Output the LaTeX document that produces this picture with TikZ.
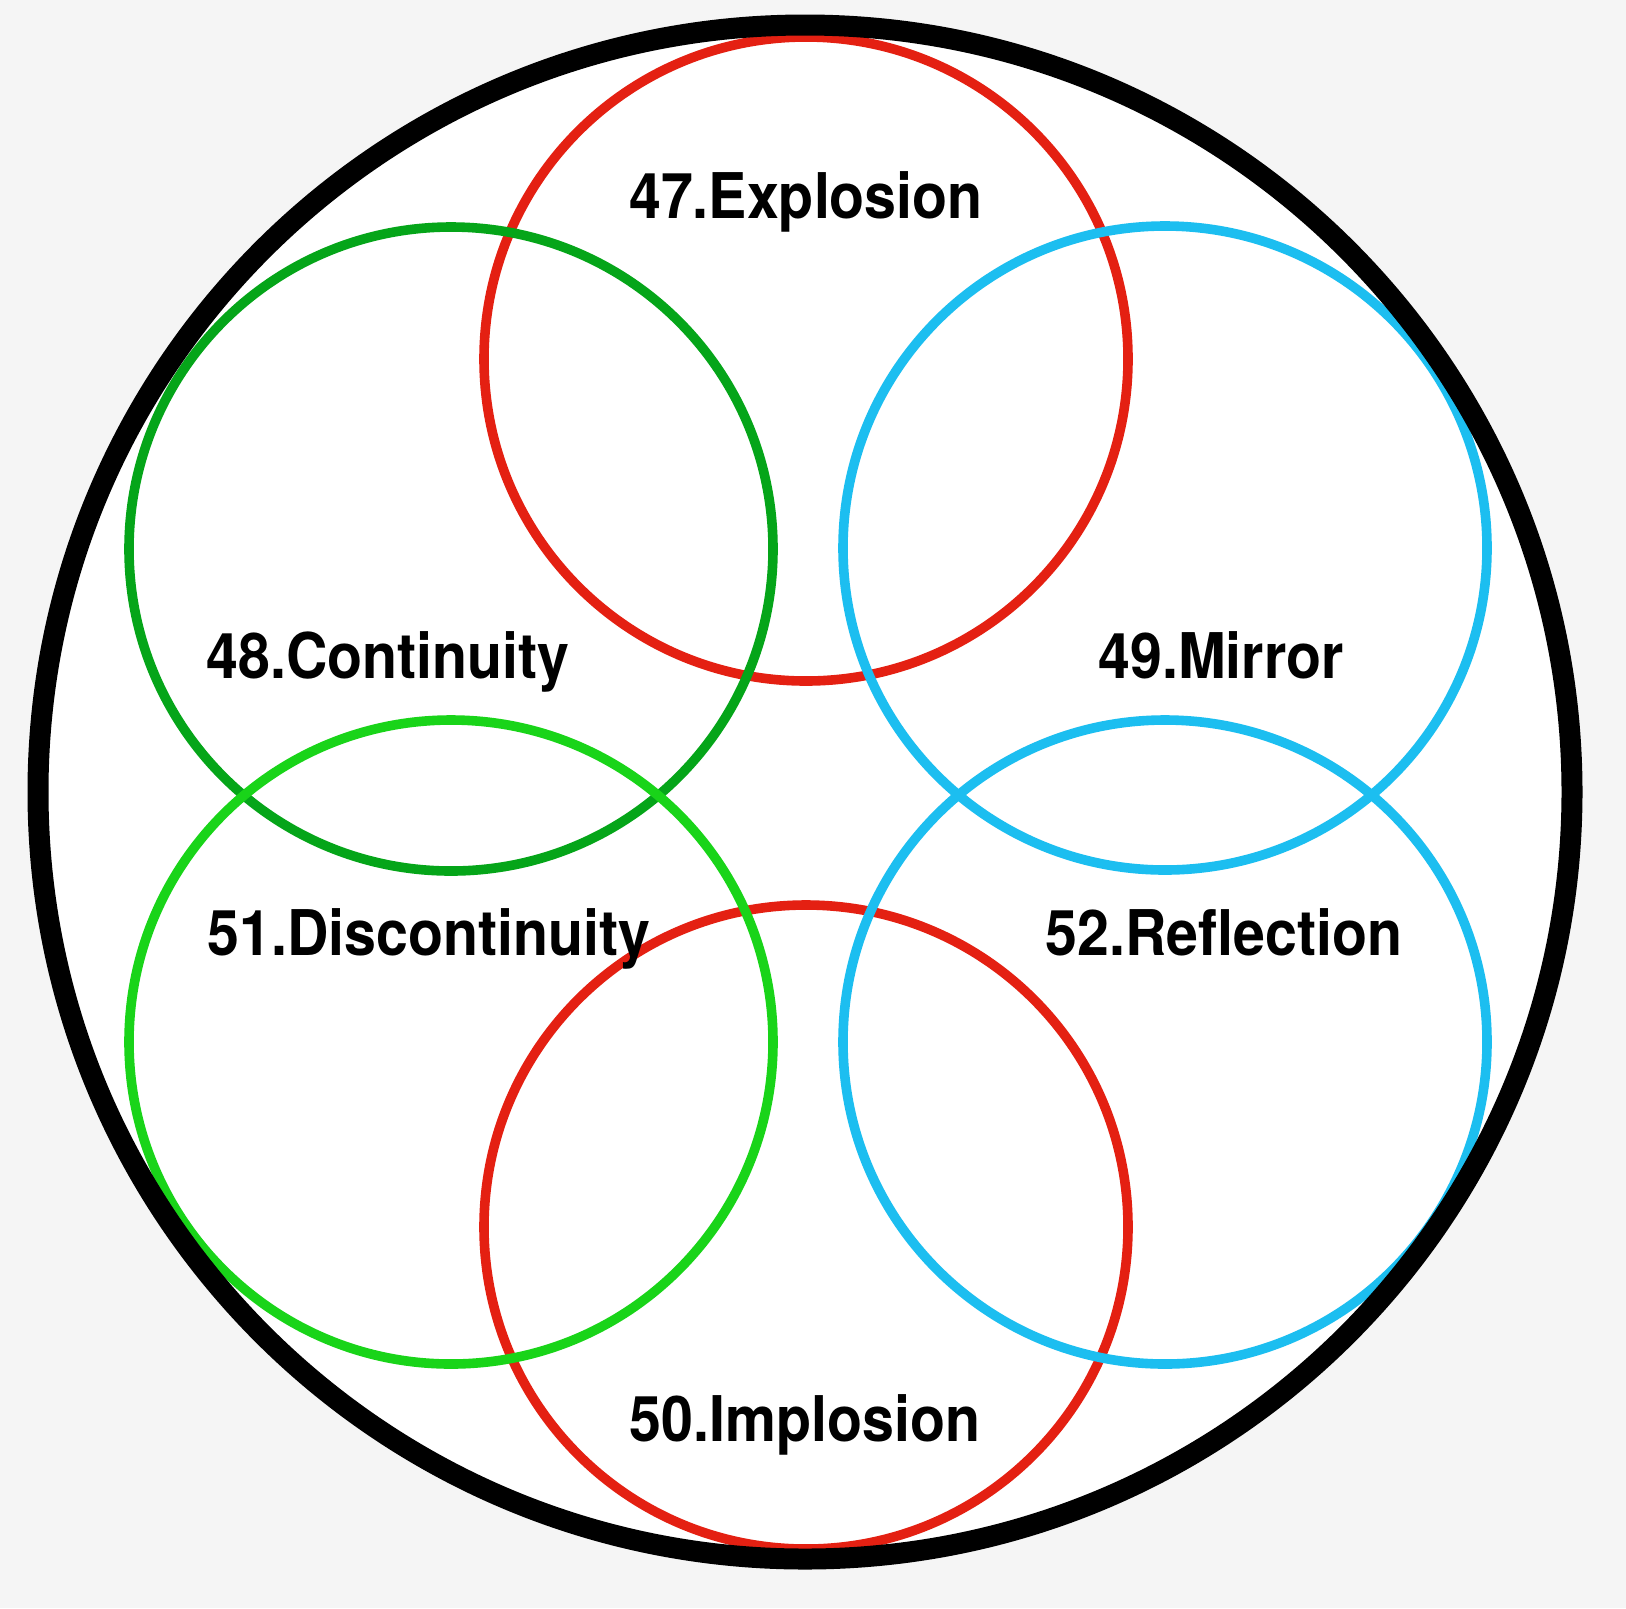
\documentclass[tikz,border=0pt]{standalone}
\usepackage{fontspec}
\setmainfont{TeX Gyre Heros}
\definecolor{bggray}{RGB}{245,245,245}
\definecolor{cred}{RGB}{228,32,18}
\definecolor{cdgreen}{RGB}{5,165,25}
\definecolor{clgreen}{RGB}{25,212,25}
\definecolor{cblue}{RGB}{28,190,240}
\begin{document}
\begin{tikzpicture}[x=0.5pt,y=-0.5pt,
  ring/.style={line width=4.8pt},
  lbl/.style={anchor=base,inner sep=0pt,xscale=0.91,font=\fontsize{31.5pt}{36pt}\selectfont\bfseries}]
\useasboundingbox (0,0) rectangle (1626,1608);
\fill[bggray] (0,0) rectangle (1626,1608);
\fill[white] (805,792) circle[radius=768];
% red circles
\draw[ring,cred] (806,359) circle[radius=322];
\draw[ring,cred] (806,1227) circle[radius=322];
% green circles
\draw[ring,cdgreen] (451,549) circle[radius=322];
\draw[ring,clgreen] (451,1042) circle[radius=322];
% blue circles
\draw[ring,cblue] (1165,548) circle[radius=322];
\draw[ring,cblue] (1165,1042) circle[radius=322];
% outer ring
\draw[line width=10.5pt,black] (805,792) circle[radius=767];
% labels
\node[lbl] (l47) at (806,218) {47.Explosion};
\node[lbl] (l48) at (388,678) {48.Continuity};
\node[lbl] (l49) at (1221,678) {49.Mirror};
\node[lbl] (l51) at (429,955) {51.Discontinuity};
\node[lbl] (l52) at (1224,955) {52.Reflection};
\node[lbl] (l50) at (805,1441) {50.Implosion};
\end{tikzpicture}
\end{document}
